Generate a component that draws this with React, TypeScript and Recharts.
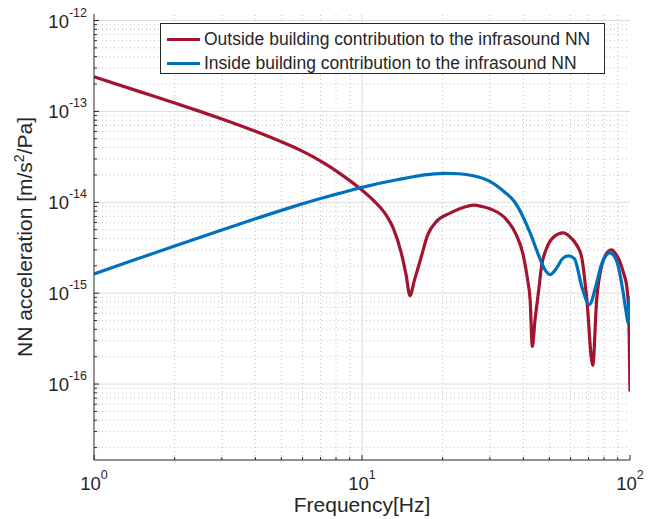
import React from "react";
import { LineChart, Line, XAxis, YAxis, ReferenceLine } from "recharts";

// frequencies [Hz] and NN acceleration [m/s^2/Pa]
const outsideF = [1, 1.5, 2, 2.5, 3, 4, 4.94, 5.8, 6.58, 7.4, 8.28, 9.83, 11, 11.67, 12.4, 13.08, 14, 14.6, 15.1, 15.7, 16.5, 17.6, 19, 21.3, 24, 26, 28, 30, 34.7, 37.5, 40, 41.5, 42.4, 43.2, 44.2, 45.5, 46.8, 48.8, 51.7, 56.4, 60, 63.2, 66, 68.9, 72.6, 75.1, 78.4, 81.5, 85.4, 88.5, 91.8, 95, 97.2, 99, 100];
const outsideV = [2.4e-13, 1.63e-13, 1.24e-13, 9.95e-14, 8.26e-14, 6.05e-14, 4.71e-14, 3.82e-14, 3.16e-14, 2.58e-14, 2.07e-14, 1.42e-14, 1.06e-14, 8.85e-15, 7.0e-15, 5.2e-15, 2.8e-15, 1.6e-15, 9.4e-16, 1.4e-15, 2.3e-15, 4.4e-15, 6.2e-15, 7.6e-15, 8.8e-15, 9.3e-15, 9.0e-15, 8.5e-15, 6.4e-15, 4.5e-15, 2.6e-15, 1.4e-15, 8.5e-16, 2.6e-16, 5e-16, 1.0e-15, 2.0e-15, 3.1e-15, 4.1e-15, 4.6e-15, 4.1e-15, 3.4e-15, 2.5e-15, 9e-16, 1.6e-16, 8.5e-16, 2.0e-15, 2.7e-15, 3.0e-15, 2.7e-15, 2.2e-15, 1.6e-15, 1.2e-15, 6e-16, 8.3e-17];

const insideF = [1, 1.4, 2, 3, 4, 5, 5.62, 7, 8.28, 10, 13.5, 17.9, 20.5, 23, 26, 30, 34, 37.2, 42.4, 45.5, 48.2, 50.3, 53.3, 56, 58.9, 62, 66.1, 70.5, 75.1, 78, 84.2, 89, 94.4, 96.5, 98.6, 100];
const insideV = [1.63e-15, 2.3e-15, 3.31e-15, 4.97e-15, 6.58e-15, 8.15e-15, 9.08e-15, 1.1e-14, 1.26e-14, 1.46e-14, 1.77e-14, 2.03e-14, 2.08e-14, 2.06e-14, 1.96e-14, 1.7e-14, 1.3e-14, 1.0e-14, 4.6e-15, 2.66e-15, 1.8e-15, 1.6e-15, 1.9e-15, 2.4e-15, 2.57e-15, 2.4e-15, 1.18e-15, 7.5e-16, 1.3e-15, 2.0e-15, 2.78e-15, 2.3e-15, 1.0e-15, 6.5e-16, 4.7e-16, 9.3e-16];

const xDecades = [1, 10, 100];
const yDecades = [1e-16, 1e-15, 1e-14, 1e-13, 1e-12];
const yDomain = [1.46e-17, 1.18e-12];

const series = [
  { name: "Outside building contribution to the infrasound NN", color: "#A2142F", data: outsideF.map((f, i) => ({ f, v: outsideV[i] })) },
  { name: "Inside building contribution to the infrasound NN", color: "#0072BD", data: insideF.map((f, i) => ({ f, v: insideV[i] })) },
];

const minorOf = (decades: number[], lo: number, hi: number) => {
  const out: number[] = [];
  const all = [decades[0] / 10, ...decades];
  all.forEach((d) => {
    for (let m = 2; m <= 9; m++) {
      const v = m * d;
      if (v > lo && v < hi) out.push(v);
    }
  });
  return out;
};

const xMinor = minorOf(xDecades, 1, 100);
const yMinor = minorOf(yDecades, yDomain[0], yDomain[1]);
const xTicks = [...xDecades, ...xMinor].sort((a, b) => a - b);
const yTicks = [...yDecades, ...yMinor].sort((a, b) => a - b);

const isMajor = (v: number) => Math.abs(Math.log10(v) - Math.round(Math.log10(v))) < 1e-6;
const expOf = (v: number) => Math.round(Math.log10(v));

const FONT = "Liberation Sans, Arial, Helvetica, sans-serif";
const AX = "#262626";

const BottomTick = (p: any) => {
  const v = p.payload.value;
  const big = isMajor(v);
  return (
    <g>
      <line x1={p.x} x2={p.x} y1={p.y} y2={p.y - (big ? 5 : 3)} stroke={AX} />
      {big && (
        <text x={p.x} y={p.y + 30} textAnchor="middle" fontFamily={FONT} fontSize={18.5} fill={AX}>
          <tspan>10</tspan>
          <tspan dy={-11} fontSize={12.5}>{expOf(v)}</tspan>
        </text>
      )}
    </g>
  );
};

const TopTick = (p: any) => {
  const big = isMajor(p.payload.value);
  return <line x1={p.x} x2={p.x} y1={p.y} y2={p.y + (big ? 5 : 3)} stroke={AX} />;
};

const LeftTick = (p: any) => {
  const v = p.payload.value;
  const big = isMajor(v);
  return (
    <g>
      <line x1={p.x} x2={p.x + (big ? 5 : 3)} y1={p.y} y2={p.y} stroke={AX} />
      {big && (
        <text x={p.x - 7} y={p.y + 7} textAnchor="end" fontFamily={FONT} fontSize={18.5} fill={AX}>
          <tspan>10</tspan>
          <tspan dy={-11} fontSize={12.5}>{expOf(v)}</tspan>
        </text>
      )}
    </g>
  );
};

const RightTick = (p: any) => {
  const big = isMajor(p.payload.value);
  return <line x1={p.x} x2={p.x - (big ? 5 : 3)} y1={p.y} y2={p.y} stroke={AX} />;
};

export default function App() {
  return (
    <div style={{ position: "absolute", left: 0, top: 0, width: 657, height: 519, background: "#fff", fontFamily: FONT }}>
      <LineChart width={657} height={519} margin={{ top: 14, right: 27, bottom: 29, left: 14 }}>
        <XAxis xAxisId="b" dataKey="f" type="number" scale="log" domain={[1, 100]} allowDataOverflow
          ticks={xTicks} interval={0} tick={<BottomTick />} tickLine={false} tickSize={0} tickMargin={0}
          axisLine={{ stroke: AX }} height={30} />
        <XAxis xAxisId="t" orientation="top" dataKey="f" type="number" scale="log" domain={[1, 100]} allowDataOverflow
          ticks={xTicks} interval={0} tick={<TopTick />} tickLine={false} tickSize={0} tickMargin={0}
          axisLine={{ stroke: AX }} height={0} />
        <YAxis yAxisId="l" dataKey="v" type="number" scale="log" domain={yDomain} allowDataOverflow
          ticks={yTicks} interval={0} tick={<LeftTick />} tickLine={false} tickSize={0} tickMargin={0}
          axisLine={{ stroke: AX }} width={80} />
        <YAxis yAxisId="r" orientation="right" dataKey="v" type="number" scale="log" domain={yDomain} allowDataOverflow
          ticks={yTicks} interval={0} tick={<RightTick />} tickLine={false} tickSize={0} tickMargin={0}
          axisLine={{ stroke: AX }} width={0} />
        {xMinor.map((v) => (
          <ReferenceLine key={"xm" + v} x={v} xAxisId="b" yAxisId="l" stroke="#c4c4c4" strokeDasharray="1 3" />
        ))}
        {yMinor.map((v) => (
          <ReferenceLine key={"ym" + v} y={v} xAxisId="b" yAxisId="l" stroke="#c4c4c4" strokeDasharray="1 3" />
        ))}
        {xDecades.slice(1, -1).map((v) => (
          <ReferenceLine key={"xM" + v} x={v} xAxisId="b" yAxisId="l" stroke="#dcdcdc" />
        ))}
        {yDecades.map((v) => (
          <ReferenceLine key={"yM" + v} y={v} xAxisId="b" yAxisId="l" stroke="#dcdcdc" />
        ))}
        {series.map((s) => (
          <Line key={s.name} xAxisId="b" yAxisId="l" data={s.data} dataKey="v" name={s.name} type="monotone"
            stroke={s.color} strokeWidth={3.2} dot={false} isAnimationActive={false} />
        ))}
      </LineChart>
      <div style={{ position: "absolute", left: 160, top: 23, width: 443, height: 49, border: `1px solid ${AX}`, background: "#fff" }}>
        {series.map((s, i) => (
          <div key={s.name} style={{ position: "absolute", left: 6, top: 3 + i * 24, height: 24, display: "flex", alignItems: "center", whiteSpace: "nowrap" }}>
            <span style={{ display: "inline-block", width: 33, height: 3, background: s.color, marginRight: 4 }} />
            <span style={{ fontSize: 17.5, color: AX }}>{s.name}</span>
          </div>
        ))}
      </div>
      <div style={{ position: "absolute", left: 362, top: 505, transform: "translate(-50%, -50%)", fontSize: 21, color: AX, whiteSpace: "nowrap" }}>
        Frequency[Hz]
      </div>
      <div style={{ position: "absolute", left: 24, top: 237, transform: "translate(-50%, -50%) rotate(-90deg)", fontSize: 21, color: AX, whiteSpace: "nowrap" }}>
        NN acceleration [m/s<sup style={{ fontSize: 14 }}>2</sup>/Pa]
      </div>
    </div>
  );
}
